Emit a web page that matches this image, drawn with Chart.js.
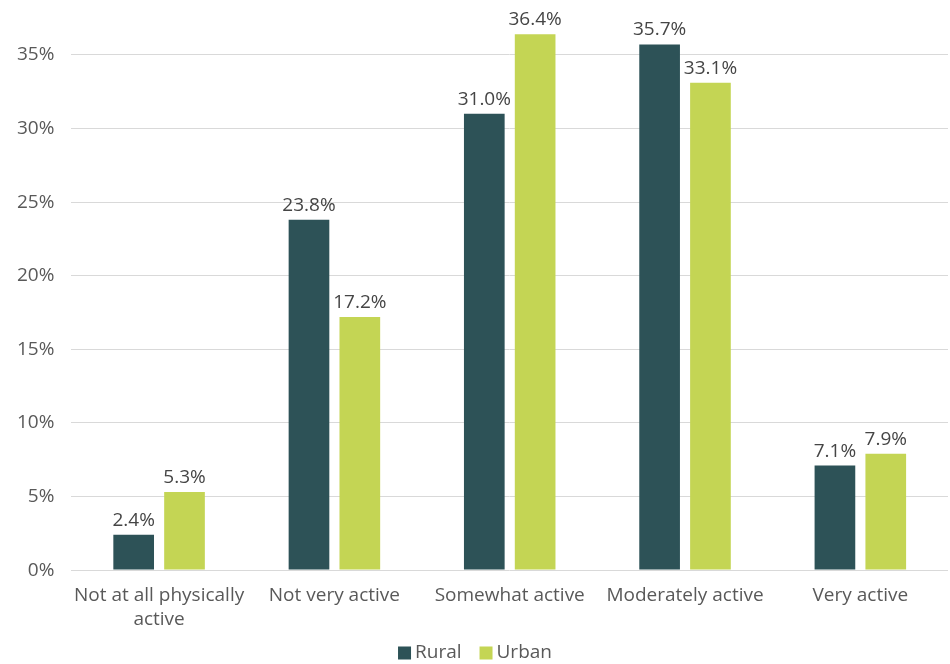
<!DOCTYPE html>
<html>
<head>
<meta charset="utf-8">
<script src="https://cdn.jsdelivr.net/npm/chart.js@4.4.1/dist/chart.umd.min.js"></script>
<style>
  body { margin: 0; background: #fff; }
  #wrap { width: 950px; height: 664px; }
</style>
</head>
<body>
<div id="wrap"><canvas id="myChart"></canvas></div>
<script>
// activity levels, rural vs urban (percent)
const categories = [['Not at all physically', 'active'], 'Not very active', 'Somewhat active', 'Moderately active', 'Very active'];
const rural = [2.4, 23.8, 31.0, 35.7, 7.1];
const urban = [5.3, 17.2, 36.4, 33.1, 7.9];
const yTicks = [0, 5, 10, 15, 20, 25, 30, 35];
const seriesColors = ['#2d5257', '#c4d554'];

const FONT = '"Open Sans", sans-serif';
const SIZE = 19;
const GREY = '#595959';

// value labels over each bar
const barLabels = {
  id: 'barLabels',
  afterDatasetsDraw(chart) {
    const c = chart.ctx;
    c.save();
    c.font = SIZE + 'px ' + FONT;
    c.fillStyle = '#454545';
    c.textAlign = 'center';
    c.textBaseline = 'bottom';
    chart.data.datasets.forEach((ds, i) => {
      chart.getDatasetMeta(i).data.forEach((bar, j) => {
        c.fillText(ds.data[j].toFixed(1) + '%', bar.x, bar.y - 5);
      });
    });
    c.restore();
  }
};

// compact legend centred under the axis
const bottomLegend = {
  id: 'bottomLegend',
  afterDraw(chart) {
    const c = chart.ctx;
    const box = 13, gapText = 4, gapItem = 18, y = 653;
    c.save();
    c.font = SIZE + 'px ' + FONT;
    c.textBaseline = 'middle';
    const items = chart.data.datasets.map(ds => ({ text: ds.label, color: ds.backgroundColor, w: c.measureText(ds.label).width }));
    const total = items.reduce((s, it) => s + box + gapText + it.w, 0) + gapItem * (items.length - 1);
    let x = (chart.width - total) / 2;
    items.forEach(it => {
      c.fillStyle = it.color;
      c.fillRect(x, y - box / 2, box, box);
      x += box + gapText;
      c.fillStyle = GREY;
      c.fillText(it.text, x, y);
      x += it.w + gapItem;
    });
    c.restore();
  }
};

const ctx = document.getElementById('myChart');

new Chart(ctx, {
  type: 'bar',
  data: {
    labels: categories,
    datasets: [
      { label: 'Rural', data: rural, backgroundColor: seriesColors[0] },
      { label: 'Urban', data: urban, backgroundColor: seriesColors[1] }
    ]
  },
  plugins: [barLabels, bottomLegend],
  options: {
    responsive: true,
    maintainAspectRatio: false,
    animation: false,
    layout: { padding: { top: 0, right: 2, left: 0, bottom: 26 } },
    datasets: { bar: { categoryPercentage: 0.58, barPercentage: 0.8 } },
    plugins: {
      legend: { display: false },
      tooltip: { enabled: false }
    },
    scales: {
      x: {
        grid: { display: false },
        border: { display: false },
        ticks: { color: GREY, font: { family: FONT, size: SIZE, lineHeight: 1.26 }, padding: 6, maxRotation: 0 }
      },
      y: {
        min: 0,
        max: 36.8,
        afterBuildTicks: axis => { axis.ticks = yTicks.map(v => ({ value: v })); },
        grid: { color: '#d9d9d9', drawTicks: false },
        border: { display: false },
        ticks: { color: GREY, font: { family: FONT, size: SIZE }, padding: 17, callback: v => v + '%' }
      }
    }
  }
});
</script>
</body>
</html>
